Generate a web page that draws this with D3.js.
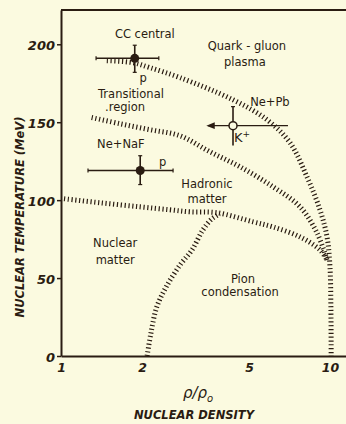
<!DOCTYPE html>
<html>
<head>
<meta charset="utf-8">
<script src="https://cdn.jsdelivr.net/npm/d3@7"></script>
<style>
  body { margin: 0; background: #fbfae0; }
  svg { display: block; }
  text { font-family: "DejaVu Sans", sans-serif; fill: #2a1c12; }
  .region { font-size: 11.5px; }
  .tick text { font-size: 13px; font-weight: bold; font-style: italic; }
  .axis-label { font-size: 11.5px; font-weight: bold; font-style: italic; }
  .hatch { fill: none; stroke: #2a1c12; stroke-width: 5; stroke-dasharray: 1.2,2.6; }
</style>
</head>
<body>
<svg id="chart"></svg>
<script>
var ink = "#2a1c12";
var width = 346, height = 424;

// density ticks (rho/rho0) and temperature ticks (MeV)
var densityTicks = [1, 2, 5, 10];
var tempTicks = [0, 50, 100, 150, 200];

// phase boundaries as [rho/rho0, T]
var plasmaBoundary = [[1.48, 189.5], [1.85, 188.2], [2.14, 185], [2.77, 178.6], [4.36, 164.4],
  [5.83, 151.6], [7.10, 136.9], [8.21, 115], [9.18, 93.8], [9.75, 76.4], [10.0, 57.1], [10.08, 30], [10.1, 0]];
var transitionBoundary = [[1.30, 153], [1.66, 149], [2.14, 145.2], [2.77, 141.3], [3.58, 131],
  [4.63, 121.4], [6.14, 108.6], [7.74, 95.7], [8.95, 79], [9.75, 61.6]];
var nuclearBoundary = [[1.026, 100.9], [1.40, 98.3], [1.97, 95.7], [2.54, 93.8], [3.02, 92.5],
  [3.80, 91.9], [5.17, 86.1], [6.14, 82.8], [7.74, 76.4], [9.18, 68.1], [9.75, 61.6]];
var pionBoundary = [[2.09, 0], [2.16, 14.8], [2.27, 31.4], [2.46, 44.3], [2.77, 58.4],
  [3.07, 68.1], [3.37, 80.9], [3.64, 88], [3.90, 91.2]];

// measured points: value with error ranges
var pointNames = ["CC central", "Ne+NaF", "Ne+Pb"];
var pointRho = [1.88, 1.97, 4.36];
var pointT = [191, 119, 147.8];
var pointRhoRange = [[1.35, 2.31], [1.26, 2.61], [3.52, 6.98]];
var pointTRange = [[182, 199.4], [110, 128.5], [135, 160]];
var pointFilled = [true, true, false];

// text in the plot: [text, rho, T]
var regionLabels = [
  ["CC central", 2.05, 204], ["p", 2.02, 175.6],
  ["Quark - gluon", 4.91, 196.3], ["plasma", 4.83, 186.1],
  ["Transitional", 1.82, 165.5], [".region", 1.73, 157.2],
  ["Ne+NaF", 1.67, 133.5], ["p", 2.39, 121.9],
  ["Ne+Pb", 5.98, 160.4],
  ["Hadronic", 3.49, 107.8], ["matter", 3.49, 98.2],
  ["Nuclear", 1.59, 69.9], ["matter", 1.59, 59],
  ["Pion", 4.75, 46.8], ["condensation", 4.63, 38.5]
];

var svg = d3.select("#chart").attr("width", width).attr("height", height);
svg.append("rect").attr("width", width).attr("height", height).attr("fill", "#fbfae0");

var x = d3.scaleLog().domain([1, 11.47]).range([61, 346]);
var y = d3.scaleLinear().domain([0, 222]).range([356, 10]);

//Axes
var xAxis = svg.append("g")
  .attr("transform", "translate(0," + y(0) + ")")
  .call(d3.axisBottom(x).tickValues(densityTicks).tickFormat(d3.format("d")).tickSize(0).tickPadding(7));
xAxis.select(".domain").attr("stroke", ink).attr("stroke-width", 2);
xAxis.selectAll(".tick text").style("font-size", "12.5px");

var yAxis = svg.append("g")
  .attr("transform", "translate(" + x(1) + ",0)")
  .call(d3.axisLeft(y).tickValues(tempTicks).tickSizeInner(4).tickSizeOuter(0).tickPadding(2));
yAxis.select(".domain").attr("stroke", ink).attr("stroke-width", 2);
yAxis.selectAll(".tick line").attr("stroke", ink).attr("stroke-width", 1.5);
yAxis.selectAll(".tick text").attr("dy", "0.4em");

//top frame line
svg.append("line")
  .attr("x1", x.range()[0]).attr("x2", x.range()[1])
  .attr("y1", y(222)).attr("y2", y(222))
  .attr("stroke", ink).attr("stroke-width", 2);

//Axis labels
svg.append("text")
  .attr("class", "axis-label")
  .attr("transform", "translate(24,217) rotate(-90)")
  .attr("text-anchor", "middle")
  .text("NUCLEAR TEMPERATURE (MeV)");

var rhoLabel = svg.append("text")
  .attr("x", 198).attr("y", 398)
  .attr("text-anchor", "middle")
  .style("font-size", "15px").style("font-style", "italic");
rhoLabel.append("tspan").text("ρ/ρ");
rhoLabel.append("tspan").attr("dy", 4).style("font-size", "10px").text("o");

svg.append("text")
  .attr("class", "axis-label")
  .attr("x", 194).attr("y", 419)
  .attr("text-anchor", "middle")
  .text("NUCLEAR DENSITY");

//Hatched phase boundaries
var line = d3.line()
  .x(function(d) { return x(d[0]); })
  .y(function(d) { return y(d[1]); })
  .curve(d3.curveCatmullRom);

[plasmaBoundary, transitionBoundary, nuclearBoundary, pionBoundary].forEach(function(b) {
  svg.append("path")
    .datum(b)
    .attr("class", "hatch")
    .attr("d", line);
});

//Arrow marker for Ne+Pb
svg.append("defs").append("marker")
  .attr("id", "arrow")
  .attr("viewBox", "0 0 10 10")
  .attr("refX", 8).attr("refY", 5)
  .attr("markerWidth", 6).attr("markerHeight", 6)
  .attr("orient", "auto-start-reverse")
  .append("path").attr("d", "M0,1L10,5L0,9Z").attr("fill", ink);

//Data points with error bars
pointNames.forEach(function(name, i) {
  var g = svg.append("g");
  var cx = x(pointRho[i]), cy = y(pointT[i]);
  var hx = g.append("line")
    .attr("x1", x(pointRhoRange[i][0])).attr("x2", x(pointRhoRange[i][1]))
    .attr("y1", cy).attr("y2", cy)
    .attr("stroke", ink).attr("stroke-width", 1.4);
  g.append("line")
    .attr("x1", cx).attr("x2", cx)
    .attr("y1", y(pointTRange[i][0])).attr("y2", y(pointTRange[i][1]))
    .attr("stroke", ink).attr("stroke-width", 1.6);

  if (pointFilled[i]) {
    //small end caps
    pointRhoRange[i].forEach(function(r) {
      g.append("line").attr("x1", x(r)).attr("x2", x(r)).attr("y1", cy - 2).attr("y2", cy + 2)
        .attr("stroke", ink).attr("stroke-width", 1.2);
    });
    pointTRange[i].forEach(function(t) {
      g.append("line").attr("x1", cx - 2).attr("x2", cx + 2).attr("y1", y(t)).attr("y2", y(t))
        .attr("stroke", ink).attr("stroke-width", 1.2);
    });
    g.append("circle").attr("cx", cx).attr("cy", cy).attr("r", 4.5).attr("fill", ink);
  }
  else {
    hx.attr("marker-start", "url(#arrow)");
    g.append("line").attr("x1", cx - 2).attr("x2", cx + 2)
      .attr("y1", y(pointTRange[i][1])).attr("y2", y(pointTRange[i][1]))
      .attr("stroke", ink).attr("stroke-width", 1.2);
    g.append("circle").attr("cx", cx).attr("cy", cy).attr("r", 4)
      .attr("fill", "#fbfae0").attr("stroke", ink).attr("stroke-width", 1.5);
  }
});

//K+ label
var kLabel = svg.append("text")
  .attr("class", "region")
  .attr("x", x(4.71)).attr("y", y(137.3))
  .attr("text-anchor", "middle")
  .style("font-size", "13px");
kLabel.append("tspan").text("K");
kLabel.append("tspan").attr("dy", -5).style("font-size", "9px").text("+");

//Region labels
svg.selectAll(".region-label")
  .data(regionLabels)
  .enter().append("text")
  .attr("class", "region region-label")
  .attr("x", function(d) { return x(d[1]); })
  .attr("y", function(d) { return y(d[2]); })
  .attr("text-anchor", "middle")
  .text(function(d) { return d[0]; });
</script>
</body>
</html>
